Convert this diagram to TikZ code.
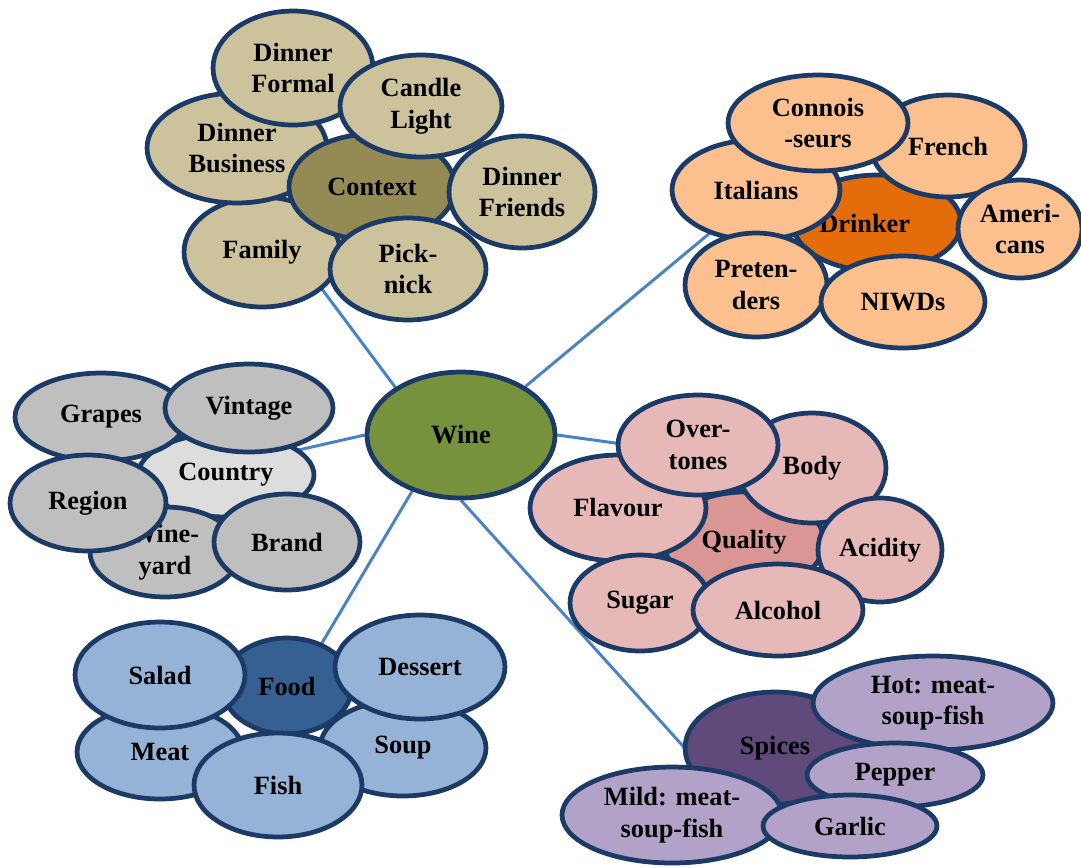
\documentclass[tikz,border=0pt]{standalone}
\usepackage{fontspec}
\setmainfont{Liberation Serif}
\usepackage{xcolor}
\usepackage{tikz}
\usetikzlibrary{shapes.geometric,backgrounds}
\definecolor{rimblue}{HTML}{1C3A66}
\definecolor{linkblue}{HTML}{4A82C4}
\definecolor{winegreen}{HTML}{76923C}
\definecolor{ctxleafc}{HTML}{CCC39C}
\definecolor{ctxhubc}{HTML}{948A54}
\definecolor{drkleafc}{HTML}{FBC08E}
\definecolor{drkhubc}{HTML}{E46C0A}
\definecolor{cntleafc}{HTML}{BFBFBF}
\definecolor{cnthubc}{HTML}{DDDDDD}
\definecolor{qlyleafc}{HTML}{E6B9B8}
\definecolor{qlyhubc}{HTML}{D99694}
\definecolor{foodleafc}{HTML}{95B3D7}
\definecolor{foodhubc}{HTML}{366092}
\definecolor{spcleafc}{HTML}{B3A2C7}
\definecolor{spchubc}{HTML}{604A7B}
\tikzset{
  bubble/.style={ellipse,draw=rimblue,line width=2.7pt,inner sep=0pt,align=center,
    font=\fontsize{15}{18}\selectfont\bfseries},
  esize/.style 2 args={minimum width=#1*0.04cm,minimum height=#2*0.04cm},
  ctxleaf/.style={bubble,fill=ctxleafc},
  ctxhub/.style={bubble,fill=ctxhubc},
  drkleaf/.style={bubble,fill=drkleafc},
  drkhub/.style={bubble,fill=drkhubc},
  cntleaf/.style={bubble,fill=cntleafc},
  cnthub/.style={bubble,fill=cnthubc},
  qlyleaf/.style={bubble,fill=qlyleafc},
  qlyhub/.style={bubble,fill=qlyhubc},
  foodleaf/.style={bubble,fill=foodleafc},
  foodhub/.style={bubble,fill=foodhubc},
  spcleaf/.style={bubble,fill=spcleafc},
  spchub/.style={bubble,fill=spchubc},
  wineline/.style={draw=linkblue,line width=1.7pt}
}
\begin{document}
\begin{tikzpicture}[x=0.02cm,y=-0.02cm]
  \useasboundingbox (0,0) rectangle (1081,867);
  % centre
  \node[bubble,fill=winegreen,esize={94}{63}] (wine) at (461,435) {Wine};
  % context
  \node[ctxleaf,esize={78}{55}] (family) at (262,252) {Family};
  \node[ctxleaf,esize={90}{55}] (dinnerbusiness) at (237,148) {Dinner\\Business};
  \node[ctxhub,esize={83}{53}] (context) at (372,187) {Context};
  \node[ctxleaf,esize={80}{57}] (dinnerformal) at (293,68) {Dinner\\Formal};
  \node[ctxleaf,esize={81}{51}] (candlelight) at (421,106) {Candle\\Light};
  \node[ctxleaf,esize={73}{56}] (dinnerfriends) at (522,192) {Dinner\\Friends};
  \node[ctxleaf,esize={78}{51}] (picknick) at (408,269) {Pick-\\nick};
  % drinker
  \node[drkhub,esize={84}{48}] (drinker) at (877,223) {\hspace*{-14pt}Drinker};
  \node[drkleaf,esize={77}{51}] (french) at (948,146) {French};
  \node[drkleaf,esize={84}{50}] (italians) at (756,190) {Italians};
  \node[drkleaf,esize={90}{48}] (connoisseurs) at (818,123) {Connois\\-seurs};
  \node[drkleaf,esize={62}{49}] (americans) at (1020,229) {Ameri-\\cans};
  \node[drkleaf,esize={71}{52}] (pretenders) at (756,285) {Preten-\\ders};
  \node[drkleaf,esize={82}{46}] (niwds) at (903,302) {NIWDs};
  % country
  \node[cnthub,esize={88}{42}] (country) at (226,475) {\raisebox{4pt}{Country}};
  \node[cntleaf,esize={86}{44}] (grapes) at (101,417) {Grapes};
  \node[cntleaf,esize={84}{44}] (vintage) at (249,408) {Vintage};
  \node[cntleaf,esize={75}{45}] (wineyard) at (165,552) {Wine-\\yard};
  \node[cntleaf,esize={78}{48}] (region) at (88,503) {Region};
  \node[cntleaf,esize={73}{48}] (brand) at (287,542) {Brand};
  % quality
  \node[qlyhub,esize={80}{50}] (quality) at (744,542) {Quality};
  \node[qlyleaf,esize={88}{53}] (flavour) at (618,508) {Flavour};
  \node[qlyleaf,esize={74}{55}] (body) at (812,468) {Body};
  \node[qlyleaf,esize={80}{50}] (overtones) at (698,445) {Over-\\tones};
  \node[qlyleaf,esize={62}{52}] (acidity) at (880,550) {Acidity};
  \node[qlyleaf,esize={70}{48}] (sugar) at (640,603) {Sugar};
  \node[qlyleaf,esize={85}{46}] (alcohol) at (778,610) {Alcohol};
  % food
  \node[foodleaf,esize={83}{47}] (meat) at (160,752) {Meat};
  \node[foodhub,esize={65}{48}] (food) at (287,686) {Food};
  \node[foodleaf,esize={85}{53}] (salad) at (160,675) {Salad};
  \node[foodleaf,esize={83}{48}] (soup) at (403,748) {Soup};
  \node[foodleaf,esize={85}{52}] (dessert) at (420,667) {Dessert};
  \node[foodleaf,esize={84}{52}] (fish) at (278,785) {Fish};
  % spices
  \node[spchub,esize={90}{56}] (spices) at (775,748) {Spices};
  \node[spcleaf,esize={120}{47}] (hot) at (933,703) {Hot: meat-\\soup-fish};
  \node[spcleaf,esize={88}{32}] (pepper) at (895,775) {Pepper};
  \node[spcleaf,esize={110}{48}] (mild) at (672,815) {Mild: meat-\\soup-fish};
  \node[spcleaf,esize={87}{31}] (garlic) at (850,826) {Garlic};
  % links, kept behind the bubbles
  \coordinate (ctxfoot) at (307,269);
  \coordinate (drkfoot) at (740,208);
  \coordinate (cntfoot) at (250,461);
  \coordinate (qlyfoot) at (680,452);
  \coordinate (foodfoot) at (300,680);
  \coordinate (spcfoot) at (720,787);
  \begin{scope}[on background layer]
    \draw[wineline] (wine.144) -- (ctxfoot);
    \draw[wineline] (wine.37) -- (drkfoot);
    \draw[wineline] (wine.west) -- (cntfoot);
    \draw[wineline] (wine.east) -- (qlyfoot);
    \draw[wineline] (wine.229) -- (foodfoot);
    \draw[wineline] (wine.south) -- (spcfoot);
  \end{scope}
\end{tikzpicture}
\end{document}
